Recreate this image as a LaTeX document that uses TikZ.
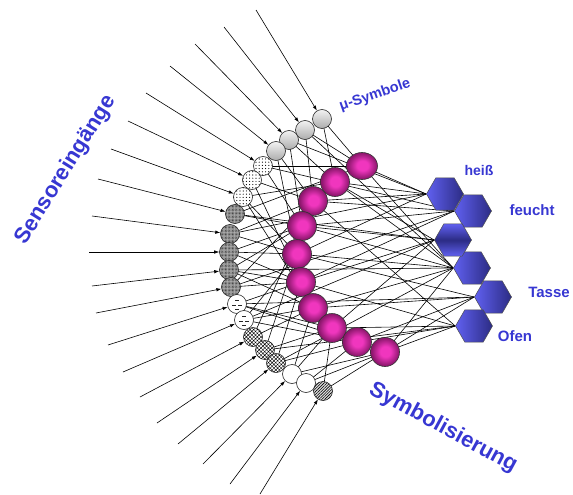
\documentclass[tikz,border=0pt]{standalone}
\usepackage{fontspec}
\setmainfont{Liberation Sans}
\usetikzlibrary{arrows.meta}
\usetikzlibrary{shapes.geometric, backgrounds}
\usetikzlibrary{patterns, patterns.meta}
\definecolor{symblau}{RGB}{55,55,210}
\definecolor{pinkhell}{RGB}{240,54,190}
\definecolor{pinkdunkel}{RGB}{140,22,108}
\definecolor{hexhell}{RGB}{96,96,240}
\definecolor{hexdunkel}{RGB}{44,44,132}
\pgfdeclareradialshading{kugelpink}{\pgfpoint{1bp}{1bp}}{color(0bp)=(pinkhell); color(9bp)=(pinkhell); color(24bp)=(pinkdunkel); color(50bp)=(pinkdunkel)}

\tikzset{
  eingang/.style={circle, draw=black!85, line width=0.6pt, minimum size=19pt, inner sep=0pt},
  grau/.style={eingang, top color=gray!10, bottom color=gray!65},
  punkte/.style={eingang, fill=white, postaction={pattern={Dots[radius=0.6pt,distance=3.2pt]}}},
  kariert/.style={eingang, fill=gray!65, postaction={pattern={Dots[radius=0.35pt,distance=1.4pt]}}},
  striche/.style={eingang, fill=white, path picture={
      \foreach \dx/\dy in {-2/-4, -5/1, 1/1, -2/5}
        \draw[line width=0.7pt] (path picture bounding box.center) ++(\dx,\dy) -- ++(4,0);}},
  geflecht/.style={eingang, fill=white, postaction={pattern={Hatch[angle=45,distance=2.6pt,line width=0.4pt]}}},
  leer/.style={eingang, fill=white},
  schraeg/.style={eingang, fill=gray!25, postaction={pattern={Lines[angle=45,distance=2pt,line width=0.6pt]}}},
  kugel/.style={circle, draw=black!80, line width=0.6pt, minimum size=29pt, inner sep=0pt,
    shading=kugelpink},
  sechseck/.style={regular polygon, regular polygon sides=6, minimum size=37pt, inner sep=0pt,
    draw=black!70, line width=0.5pt, left color=hexhell, right color=hexdunkel},
  pfeil/.style={-{Latex[length=5pt,width=3.5pt]}, line width=0.6pt},
  kante/.style={black, line width=0.6pt},
  beschr/.style={text=symblau, font=\bfseries}
}

\begin{document}
\begin{tikzpicture}[x=1pt, y=-1pt] % Pixelkoordinaten, y nach unten
    \useasboundingbox (0,0) rectangle (573,495);
    % Sensoreingaenge (kleine Kreise)
    \foreach \i/\x/\y/\typ in {1/322/119/grau, 2/305/130/grau, 3/289/140/grau, 4/276/151/grau,
        5/263/166/punkte, 6/252/180/punkte, 7/243/197/punkte,
        8/235/214/kariert, 9/230/234/kariert, 10/229/252/kariert, 11/229/270/kariert, 12/231/287/kariert,
        13/237/304/striche, 14/244/320/striche,
        15/253/337/geflecht, 16/265/350/geflecht, 17/276/363/geflecht,
        18/292/374/leer, 19/306/383/leer, 20/323/391/schraeg} {
        \node[\typ] (s\i) at (\x,\y) {};
    }
    % Pfeile von aussen auf die Eingaenge
    \foreach \i/\x/\y in {1/256/10, 2/224/27, 3/195/44, 4/170/66, 5/146/93, 6/128/121, 7/111/149,
        8/98/179, 9/92/216, 10/89/252, 11/92/286, 12/96/313, 13/108/345, 14/123/372,
        15/140/397, 16/157/423, 17/178/444, 18/203/464, 19/230/484, 20/260/494} {
        \coordinate (e\i) at (\x,\y);
        \draw[pfeil] (e\i) -- (s\i);
    }
    % mu-Symbole (Kugeln)
    \foreach \i/\x/\y in {2/335/182, 3/313/201, 4/302/226, 5/297/254,
        6/301/282, 7/313/308, 8/332/328, 9/357/342, 10/385/352} {
        \node[kugel] (m\i) at (\x,\y) {};
    }
    \node[kugel, minimum width=31pt, minimum height=27pt, ellipse] (m1) at (362,166) {};
    % Symbole (Sechsecke)
    \foreach \i/\x/\y in {1/445/194, 2/473/211, 4/472/268, 5/493/297, 6/474/326} {
        \node[sechseck] (h\i) at (\x,\y) {};
    }
    \node[sechseck, top color=hexhell, bottom color=hexhell, middle color=hexdunkel] (h3) at (453,240) {};
    % Verbindungen im Hintergrund
    \begin{scope}[on background layer]
        \foreach \a/\b in {s1/m1, s1/m2, s2/m3, s2/m1, s3/m2, s3/m4, s4/m3, s4/m5,
            s5/m1, s5/m4, s6/m3, s6/m6, s7/m2, s7/m5, s7/m7, s8/m4, s8/m1,
            s9/m3, s9/m5, s10/m5, s10/m4, s10/m6, s11/m4, s11/m7, s11/m6,
            s12/m6, s12/m3, s13/m6, s13/m8, s13/m9, s14/m5, s14/m7, s14/m9,
            s15/m7, s15/m4, s16/m8, s16/m5, s17/m9, s17/m6,
            s18/m8, s18/m10, s18/m7, s19/m9, s19/m10, s20/m10, s20/m8} {
            \draw[kante] (\a.center) -- (\b.center);
        }
        \foreach \a/\b in {m1/h1, m1/h4, m2/h1, m2/h3, m2/h4, m3/h2, m3/h1, m3/h6,
            m4/h3, m4/h4, m4/h2, m5/h1, m5/h5, m5/h4, m6/h2, m6/h6, m6/h3,
            m7/h4, m7/h5, m8/h3, m8/h6, m9/h6, m9/h5, m10/h5, m10/h6, m10/h4,
            s3/h1, s5/h2, s8/h3, s9/h1, s11/h4, s12/h2, s13/h5, s14/h3,
            s16/h6, s17/h4, s2/h4} {
            \draw[kante] (\a.center) -- (\b.west);
        }
    \end{scope}
    % Beschriftungen
    \node[beschr, font=\bfseries\fontsize{14.5}{14.5}\selectfont, rotate=19] (lmu) at (375,95) {μ-Symbole};
    \node[beschr, font=\bfseries\fontsize{14}{14}\selectfont] (lheiss) at (479,170) {heiß};
    \node[beschr, font=\bfseries\fontsize{15}{15}\selectfont] (lfeucht) at (532,210) {feucht};
    \node[beschr, font=\bfseries\fontsize{15}{15}\selectfont] (ltasse) at (549,292) {Tasse};
    \node[beschr, font=\bfseries\fontsize{15}{15}\selectfont] (lofen) at (515,336) {Ofen};
    \node[beschr, font=\bfseries\fontsize{22}{22}\selectfont, rotate=58] (lsens) at (66,170) {Sensoreingänge};
    \node[beschr, font=\bfseries\fontsize{22}{22}\selectfont, rotate=-28.5] (lsymb) at (443,428) {Symbolisierung};
\end{tikzpicture}
\end{document}
